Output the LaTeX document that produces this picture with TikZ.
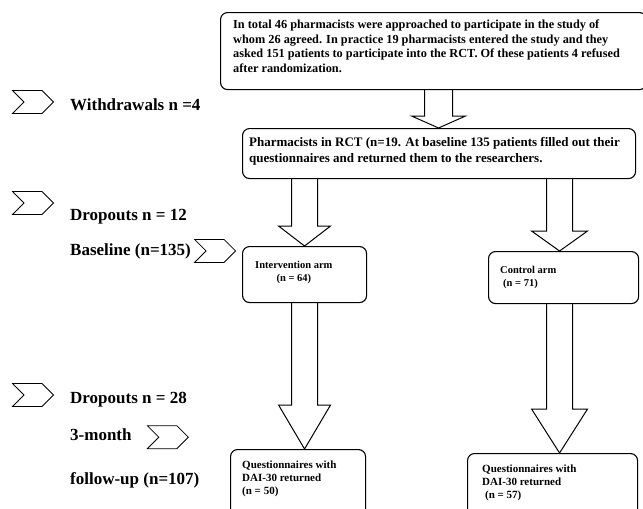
\documentclass[tikz,border=0pt]{standalone}
\usepackage{fontspec}
\setmainfont{Liberation Serif}
\usetikzlibrary{shapes.symbols,calc}

\tikzset{
  flowbox/.style={draw,line width=1.1pt,rounded corners=7pt,anchor=north west,inner sep=0pt},
  boxtext/.style={anchor=north west,inner sep=0pt,font=\bfseries\fontsize{10.5}{13}\selectfont},
  sidelabel/.style={anchor=base west,inner sep=0pt,font=\bfseries\fontsize{17}{20}\selectfont},
  marker/.style={signal,signal from=west,signal to=east,draw,line width=0.8pt,
    minimum width=41pt,minimum height=23pt,inner sep=0pt},
  fatarrow/.style={draw,line width=1pt,line join=miter},
}

% block arrow: start, tip, stem half width, head half width, head length
\newcommand{\blockarrow}[5]{%
  \draw[fatarrow] let \p1=(#1), \p2=(#2) in
    (\x1-#3,\y1) -- (\x1-#3,\y2+#5) -- (\x1-#4,\y2+#5) -- (\x1,\y2)
    -- (\x1+#4,\y2+#5) -- (\x1+#3,\y2+#5) -- (\x1+#3,\y1);}

\begin{document}
\begin{tikzpicture}[x=1pt,y=-1pt]
\useasboundingbox (0,0) rectangle (643,509);

% boxes
\node[flowbox,minimum width=426pt,minimum height=77pt] (intro) at (220,12) {};
\node[boxtext,align=left,font=\bfseries\fontsize{12.3}{14.5}\selectfont] (introtxt) at (233,20)
  {In total 46 pharmacists were approached to participate in the study of\\
   whom 26 agreed. In practice 19 pharmacists entered the study and they\\
   asked 151 patients to participate into the RCT. Of these patients 4 refused\\
   after randomization.};

\node[flowbox,minimum width=393pt,minimum height=50pt] (rct) at (242,128) {};
\node[boxtext,align=left,font=\bfseries\fontsize{13}{16}\selectfont] (rcttxt) at (249,137.5)
  {Pharmacists in RCT (n=19. At baseline 135 patients filled out their\\
   questionnaires and returned them to the researchers.};

\node[flowbox,minimum width=124pt,minimum height=56pt] (intv) at (242,246) {};
\node[boxtext,align=center] (intvtxt) at (255,261)
  {Intervention arm\\(n = 64)};

\node[flowbox,minimum width=150pt,minimum height=52pt] (ctrl) at (488,251) {};
\node[boxtext,align=left] (ctrltxt) at (500,266)
  {Control arm\\\hspace{3pt}(n = 71)};

\node[flowbox,minimum width=135pt,minimum height=80pt] (qleft) at (230,449) {};
\node[boxtext,align=left,font=\bfseries\fontsize{11}{13}\selectfont] (qlefttxt) at (242,461)
  {Questionnaires with\\DAI-30 returned\\(n = 50)};

\node[flowbox,minimum width=170pt,minimum height=80pt] (qright) at (467,453) {};
\node[boxtext,align=left,font=\bfseries\fontsize{11}{13}\selectfont] (qrighttxt) at (482,465)
  {Questionnaires with\\DAI-30 returned\\\hspace{3pt}(n = 57)};

% block arrows
\blockarrow{[xshift=5pt]intro.south}{rct.north}{14pt}{27pt}{12pt}
\blockarrow{intv.north |- rct.south}{intv.north}{13pt}{26pt}{20pt}
\blockarrow{[xshift=-4pt]ctrl.north |- rct.south}{ctrl.north}{13pt}{28pt}{20pt}
\blockarrow{intv.south}{qleft.north}{13pt}{26pt}{44pt}
\blockarrow{[xshift=-4pt]ctrl.south}{qright.north}{13pt}{28pt}{44pt}

% side labels
\node[marker] (mwithdraw) at (33,102) {};
\node[sidelabel] (lwithdraw) at (70,110) {Withdrawals n =4};
\node[marker] (mdrop1) at (33,203) {};
\node[sidelabel] (ldrop1) at (70,220) {Dropouts n = 12};
\node[sidelabel] (lbase) at (70,255) {Baseline (n=135)};
\node[marker,anchor=center,xshift=24pt] (mbase) at (lbase.east) {};
\node[marker] (mdrop2) at (33,395) {};
\node[sidelabel] (ldrop2) at (70,403) {Dropouts n = 28};
\node[sidelabel] (lthree) at (70,440) {3-month};
\node[marker,xshift=36pt,yshift=-3pt] (mthree) at (lthree.east) {};
\node[sidelabel] (lfollow) at (70,484) {follow-up (n=107)};
\end{tikzpicture}
\end{document}
